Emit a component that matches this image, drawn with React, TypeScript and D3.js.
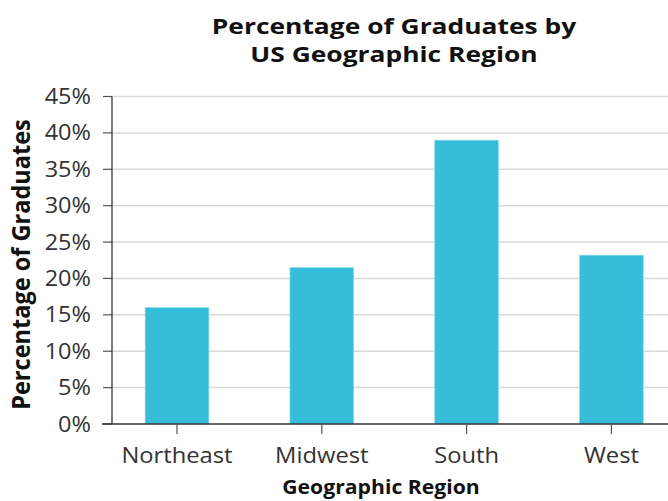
import React from 'react'
import * as d3 from 'd3'

const regions = ['Northeast', 'Midwest', 'South', 'West']
const graduates = [0.16, 0.215, 0.39, 0.232]
const yTicks = [0, 0.05, 0.1, 0.15, 0.2, 0.25, 0.3, 0.35, 0.4, 0.45]
const titleLines = ['Percentage of Graduates by', 'US Geographic Region']

const font = '"Open Sans", "Noto Sans", sans-serif'

export default function App() {
    const width = 668
    const height = 501

    const x = d3.scaleBand<string>()
        .domain(regions)
        .range([104.6, 104.6 + 4 * 144.8])
        .paddingInner(0.56)
        .paddingOuter(0.28)

    const y = d3.scaleLinear()
        .domain([0, 0.45])
        .range([424, 96.5])

    const left = 112
    const fmt = d3.format('.0%')
    const mid = (r: string) => (x(r) ?? 0) + x.bandwidth() / 2

    return (
        <svg width={width} height={height}
            style={{ position: 'absolute', left: 0, top: 0, background: '#fff' }}
            fontFamily={font}>
            {titleLines.map((t, i) => (
                <text key={t} transform={`translate(394, ${34 + i * 28}) scale(1.2, 1)`}
                    textAnchor="middle" fontSize={22} fontWeight="bold" fill="#111">
                    {t}
                </text>
            ))}

            {/* grid + y ticks */}
            {yTicks.map(t => (
                <g key={t} transform={`translate(0, ${y(t)})`}>
                    {t > 0 && <line x1={left} x2={width} stroke="#d9d9d9" strokeWidth={1.5} />}
                    <line x1={103} x2={left} stroke="#555" strokeWidth={1.2} />
                    <text transform="translate(91, 0) scale(1.12, 1)" dy="0.36em" textAnchor="end"
                        fontSize={21} fill="#333">{fmt(t)}</text>
                </g>
            ))}

            {/* bars */}
            {regions.map((r, i) => (
                <rect key={r}
                    x={x(r)}
                    y={y(graduates[i])}
                    width={x.bandwidth()}
                    height={y(0) - y(graduates[i])}
                    fill="#35bdd9"
                    stroke="#8fdcec"
                    strokeWidth={0.6} />
            ))}

            {/* axes */}
            <line x1={left} x2={left} y1={y(0.45)} y2={y(0)} stroke="#333" strokeWidth={1.3} />
            <line x1={102} x2={width} y1={y(0)} y2={y(0)} stroke="#333" strokeWidth={1.3} />

            {regions.map(r => (
                <g key={r}>
                    <line x1={mid(r)} x2={mid(r)} y1={y(0)} y2={y(0) + 10}
                        stroke="#555" strokeWidth={1.2} />
                    <text transform={`translate(${mid(r)}, 463) scale(1.08, 1)`}
                        textAnchor="middle" fontSize={22} fill="#333">{r}</text>
                </g>
            ))}

            <text transform="translate(381, 494) scale(1.06, 1)" textAnchor="middle" fontSize={20}
                fontWeight="bold" fill="#111">
                Geographic Region
            </text>
            <text transform="translate(30, 264.5) rotate(-90) scale(1.07, 1.15)" textAnchor="middle"
                fontSize={22} fontWeight="bold" fill="#111">
                Percentage of Graduates
            </text>
        </svg>
    )
}
